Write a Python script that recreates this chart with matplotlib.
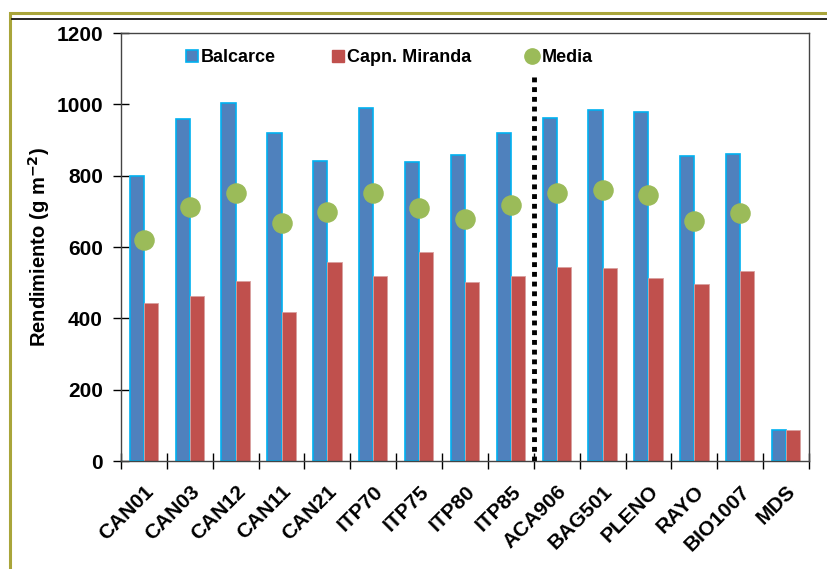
import matplotlib.pyplot as plt
import numpy as np
from matplotlib.patches import Rectangle
from matplotlib.lines import Line2D

plt.rcParams['font.family'] = ['Liberation Sans', 'DejaVu Sans']

cultivares = ["CAN01", "CAN03", "CAN12", "CAN11", "CAN21", "ITP70", "ITP75", "ITP80",
              "ITP85", "ACA906", "BAG501", "PLENO", "RAYO", "BIO1007", "MDS"]
balcarce = [800, 960, 1003, 920, 840, 990, 838, 858, 920, 963, 985, 980, 855, 860, 88]
miranda = [443, 463, 505, 418, 557, 518, 585, 502, 520, 545, 540, 513, 497, 533, 88]
media = [620, 712, 752, 668, 697, 753, 710, 678, 718, 752, 760, 745, 672, 695]

fig = plt.figure(figsize=(8.28, 5.69), dpi=100)
ax = fig.add_axes([0.1461, 0.1898, 0.831, 0.752])

x = np.arange(len(cultivares))
ax.bar(x - 0.155, balcarce, width=0.31, color="#4f81bd", edgecolor="#00b0f0", linewidth=1.2,
       label="Balcarce", zorder=2)
ax.bar(x + 0.155, miranda, width=0.31, color="#c0504d", edgecolor="#d9a0a0", linewidth=0.6,
       label="Capn. Miranda", zorder=2)
ax.scatter(x[:len(media)], media, s=190, color="#9bbb59", zorder=3, label="Media")

# separador entre grupos de cultivares
ax.plot([8.5, 8.5], [0, 1080], color="black", linestyle=(0, (1, 1)), linewidth=3.5, zorder=4)

ax.set_xlim(-0.5, 14.5)
ax.set_ylim(0, 1200)
ax.set_yticks(np.arange(0, 1201, 200))
ax.set_xticks(x)
ax.set_xticklabels(cultivares, rotation=45, ha="right", rotation_mode="anchor",
                   fontsize=15, fontweight="bold")
ax.set_xticks(np.arange(-0.5, 14.6, 1), minor=True)
ax.tick_params(axis="x", which="major", length=0, pad=15)
ax.tick_params(axis="x", which="minor", direction="inout", length=12, width=1)
ax.tick_params(axis="y", direction="inout", length=12, width=1, labelsize=15, pad=7)
for lab in ax.get_yticklabels():
    lab.set_fontweight("bold")
for s in ax.spines.values():
    s.set_color("#444444")
    s.set_linewidth(1)

ax.set_ylabel("Rendimiento (g m$^{\\mathbf{-2}}$)", fontsize=14.5, fontweight="bold", labelpad=3)

handles = [
    Line2D([], [], marker="s", linestyle="none", markersize=8, markerfacecolor="#4f81bd",
           markeredgecolor="#00b0f0", markeredgewidth=1.2),
    Line2D([], [], marker="s", linestyle="none", markersize=8, markerfacecolor="#c0504d",
           markeredgecolor="#c0504d"),
    Line2D([], [], marker="o", linestyle="none", markersize=11, markerfacecolor="#9bbb59",
           markeredgecolor="#9bbb59"),
]
leg = ax.legend(handles, ["Balcarce", "Capn. Miranda", "Media"], ncol=3, frameon=False,
                loc="upper left", bbox_to_anchor=(0.072, 1.0), handlelength=0.6,
                handletextpad=0.2, columnspacing=3.1, prop={"size": 13, "weight": "bold"})

fig.patches.append(Rectangle((10 / 828, -0.1), 1.1, 1 - 13 / 569 + 0.1, transform=fig.transFigure,
                             fill=False, edgecolor="#a9a53a", linewidth=2.2, figure=fig))
fig.lines.append(Line2D([12 / 828, 1], [1 - 19 / 569, 1 - 19 / 569], transform=fig.transFigure,
                        color="black", linewidth=1.2, figure=fig))

fig.savefig("out.png", dpi=100)
